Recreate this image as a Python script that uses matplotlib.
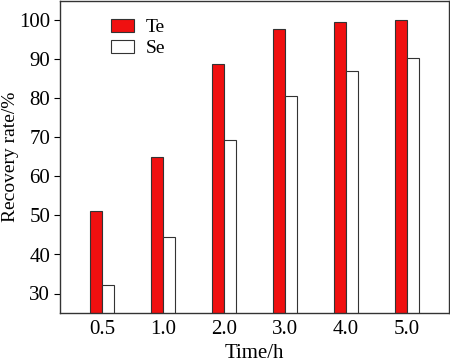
import numpy as np
import matplotlib.pyplot as plt

plt.rcParams["font.family"] = ["Liberation Serif", "DejaVu Serif"]

# data
times = ["0.5", "1.0", "2.0", "3.0", "4.0", "5.0"]
te = [51.1, 64.9, 88.9, 97.8, 99.7, 100.2]
se = [32.1, 44.4, 69.3, 80.6, 87.0, 90.5]

x = np.arange(len(times))
w = 0.2

fig = plt.figure(figsize=(4.5, 3.63), dpi=100)
ax = fig.add_axes([60 / 450, 50 / 363, 389 / 450, 312 / 363])

ax.bar(x - w / 2, te, w, color="#f01010", edgecolor="#333333", linewidth=0.8, label="Te")
ax.bar(x + w / 2, se, w, color="white", edgecolor="#333333", linewidth=0.8, label="Se")

ax.set_xlim(-0.69, 5.69)
ax.set_ylim(25, 105)
ax.set_xticks(x)
ax.set_xticklabels(times)
ax.set_yticks(range(30, 101, 10))
ax.tick_params(axis="x", length=0, labelsize=15, pad=5)
ax.tick_params(axis="y", direction="out", length=4, labelsize=15, pad=3)
ax.set_xlabel("Time/h", fontsize=15, labelpad=4)
ax.set_ylabel("Recovery rate/%", fontsize=14)
ax.yaxis.set_label_coords(-0.105, 0.5)

for s in ax.spines.values():
    s.set_color("#333333")
    s.set_linewidth(1.0)

ax.legend(loc="upper left", bbox_to_anchor=(0.095, 0.985), frameon=False, fontsize=14,
          handlelength=1.2, handleheight=0.6, handletextpad=0.6, labelspacing=0.2,
          borderaxespad=0.3)

plt.savefig("out.png")
